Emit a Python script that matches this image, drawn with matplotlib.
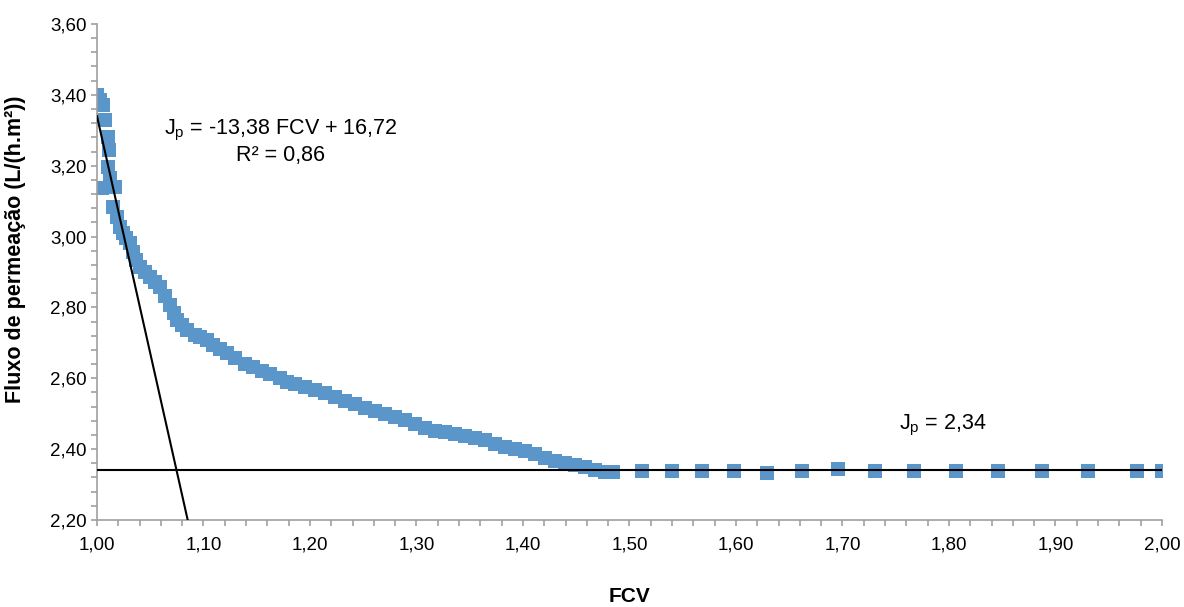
import matplotlib
matplotlib.use("Agg")
import matplotlib.pyplot as plt
from matplotlib.ticker import MultipleLocator, FuncFormatter

plt.rcParams["font.family"] = ["Liberation Sans", "DejaVu Sans"]

# Data (FCV vs permeate flux)
fcv = [1.0000, 1.0028, 1.0056, 1.0075, 1.0103, 1.0113, 1.0103, 1.0122, 1.0047, 1.0169,
       1.0150, 1.0188, 1.0216, 1.0244, 1.0272, 1.0310, 1.0338, 1.0366, 1.0404, 1.0451,
       1.0498, 1.0545, 1.0592, 1.0638, 1.0685, 1.0723, 1.0751, 1.0798, 1.0845, 1.0920,
       1.0967, 1.1033, 1.1089, 1.1155, 1.1221, 1.1296, 1.1390, 1.1465, 1.1549, 1.1624,
       1.1718, 1.1784, 1.1859, 1.1953, 1.2047, 1.2141, 1.2235, 1.2329, 1.2423, 1.2516,
       1.2610, 1.2704, 1.2798, 1.2892, 1.2986, 1.3080, 1.3174, 1.3268, 1.3362, 1.3455,
       1.3549, 1.3643, 1.3737, 1.3831, 1.3925, 1.4019, 1.4113, 1.4207, 1.4300, 1.4394,
       1.4488, 1.4582, 1.4676, 1.4770, 1.4845,
       1.512, 1.540, 1.568, 1.598, 1.629, 1.662, 1.696, 1.731, 1.767, 1.807,
       1.846, 1.887, 1.931, 1.977, 2.000]
fluxo = [3.400, 3.385, 3.371, 3.329, 3.281, 3.244, 3.196, 3.165, 3.137, 3.140,
         3.083, 3.055, 3.027, 3.010, 2.996, 2.982, 2.956, 2.934, 2.914, 2.900,
         2.886, 2.872, 2.858, 2.832, 2.807, 2.784, 2.765, 2.750, 2.736, 2.722,
         2.717, 2.708, 2.694, 2.683, 2.671, 2.657, 2.640, 2.632, 2.621, 2.612,
         2.601, 2.590, 2.584, 2.575, 2.567, 2.558, 2.547, 2.536, 2.527, 2.516,
         2.508, 2.499, 2.491, 2.482, 2.471, 2.460, 2.451, 2.448, 2.443, 2.437,
         2.431, 2.426, 2.415, 2.406, 2.400, 2.395, 2.386, 2.375, 2.367, 2.361,
         2.355, 2.350, 2.341, 2.335, 2.335,
         2.337, 2.337, 2.337, 2.337, 2.333, 2.337, 2.343, 2.337, 2.337, 2.337,
         2.337, 2.337, 2.337, 2.337, 2.337]

# Linear fit and plateau
slope, intercept = -13.38, 16.72
plateau = 2.34
fit_x = [1.0, (2.2 - intercept) / slope]
fit_y = [slope * x + intercept for x in fit_x]

fig = plt.figure(figsize=(11.84, 6.07), dpi=100)
ax = fig.add_axes([0.0819, 0.1433, 0.8995, 0.8172])

ax.plot(fcv, fluxo, linestyle="none", marker="s", markersize=10.5,
        color="#5b96cb", markeredgewidth=0, zorder=2)
ax.plot(fit_x, fit_y, color="black", linewidth=1.5, zorder=3)
ax.plot([1.0, 2.0], [plateau, plateau], color="black", linewidth=1.5, zorder=3)

ax.text(1.172, 3.30, "J$_\\mathregular{p}$ = -13,38 FCV + 16,72", ha="center", va="center", fontsize=15.5)
ax.text(1.172, 3.23, "R² = 0,86", ha="center", va="center", fontsize=15.5)
ax.text(1.794, 2.468, "J$_\\mathregular{p}$ = 2,34", ha="center", va="center", fontsize=15.5)

ax.set_xlim(1.0, 2.0)
ax.set_ylim(2.2, 3.6)
ax.xaxis.set_major_locator(MultipleLocator(0.1))
ax.xaxis.set_minor_locator(MultipleLocator(0.02))
ax.yaxis.set_major_locator(MultipleLocator(0.2))
ax.yaxis.set_minor_locator(MultipleLocator(0.04))
fmt = FuncFormatter(lambda v, p: f"{v:.2f}".replace(".", ","))
ax.xaxis.set_major_formatter(fmt)
ax.yaxis.set_major_formatter(fmt)

for s in ["top", "right"]:
    ax.spines[s].set_visible(False)
for s in ["left", "bottom"]:
    ax.spines[s].set_color("#a0a0a0")
    ax.spines[s].set_linewidth(1.2)
ax.tick_params(which="both", direction="out", color="#a0a0a0", length=4, width=1.2,
               labelsize=13.5, labelcolor="black")
ax.tick_params(axis="x", pad=8)

ax.set_xlabel("FCV", fontsize=15, fontweight="bold")
ax.set_ylabel("Fluxo de permeação (L/(h.m²))", fontsize=15.5, fontweight="bold")
ax.xaxis.set_label_coords(0.5, -0.135)
ax.yaxis.set_label_coords(-0.067, 0.546)
ax.xaxis.label.set_va("top")

fig.savefig("out.png", dpi=100)
